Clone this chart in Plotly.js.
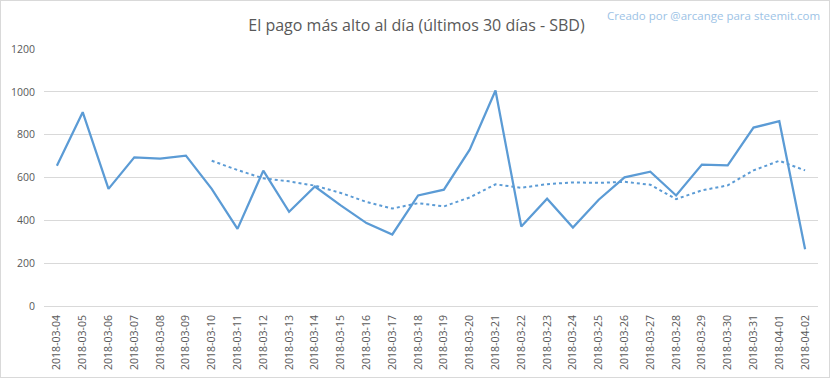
<!DOCTYPE html>
<html>
<head>
<meta charset="utf-8">
<script src="https://cdn.plot.ly/plotly-3.0.1.min.js"></script>
<style>
  html, body { margin: 0; padding: 0; background: #fff; }
  #wrap { position: relative; width: 833px; height: 379px; }
  #chart { width: 833px; height: 379px; }
  #frame { position: absolute; left: 0; top: 0; width: 830px; height: 378px; box-sizing: border-box; border: 1px solid #d9d9d9; pointer-events: none; }
</style>
</head>
<body>
<div id="wrap"><div id="chart"></div><div id="frame"></div></div>
<script>
const dates = ["2018-03-04","2018-03-05","2018-03-06","2018-03-07","2018-03-08","2018-03-09","2018-03-10","2018-03-11","2018-03-12","2018-03-13","2018-03-14","2018-03-15","2018-03-16","2018-03-17","2018-03-18","2018-03-19","2018-03-20","2018-03-21","2018-03-22","2018-03-23","2018-03-24","2018-03-25","2018-03-26","2018-03-27","2018-03-28","2018-03-29","2018-03-30","2018-03-31","2018-04-01","2018-04-02"];
const topPayout = [655, 905, 547, 694, 688, 702, 547, 360, 632, 440, 558, 470, 387, 334, 516, 543, 730, 1006, 371, 501, 366, 496, 601, 627, 516, 660, 657, 833, 863, 265];
const trendDates = dates.slice(6);
const trendValues = [678, 635, 596, 582, 562, 528, 486, 455, 480, 465, 507, 568, 552, 569, 577, 575, 580, 566, 499, 540, 563, 633, 678, 633];
const yTicks = [0, 200, 400, 600, 800, 1000, 1200];

const blue = '#5b9bd5';
const font = 'Open Sans, Noto Sans, sans-serif';

const traces = [
  { x: dates, y: topPayout, type: 'scatter', mode: 'lines', line: { color: blue, width: 2.25 }, hoverinfo: 'x+y' },
  { x: trendDates, y: trendValues, type: 'scatter', mode: 'lines', line: { color: blue, width: 2, dash: 'dot' }, hoverinfo: 'x+y' }
];

const layout = {
  width: 833, height: 379,
  margin: { l: 44, r: 15, t: 49, b: 73 },
  paper_bgcolor: '#ffffff', plot_bgcolor: '#ffffff',
  showlegend: false,
  font: { family: font, color: '#595959' },
  title: {
    text: 'El pago más alto al día (últimos 30 días - SBD)',
    font: { family: font, size: 16, color: '#595959' },
    xref: 'container', x: 0.5, xanchor: 'center',
    yref: 'container', y: 1 - 25/379, yanchor: 'middle'
  },
  xaxis: {
    type: 'category',
    tickvals: dates, ticktext: dates,
    tickangle: -90,
    tickfont: { family: font, size: 10.5, color: '#595959' },
    showgrid: false, showline: false, zeroline: false,
    ticks: '', ticklabelstandoff: 6,
    range: [-0.5, dates.length - 0.5]
  },
  yaxis: {
    range: [0, 1200],
    tickvals: yTicks,
    tickfont: { family: font, size: 10.5, color: '#595959' },
    showgrid: true, gridcolor: '#d9d9d9', gridwidth: 1,
    zeroline: true, zerolinecolor: '#d9d9d9', zerolinewidth: 1,
    showline: false, ticks: '', ticklabelstandoff: 8
  },
  annotations: [{
    text: 'Creado por @arcange para steemit.com',
    xref: 'paper', yref: 'paper', x: (822-44)/774, y: (306-15)/257,
    xanchor: 'right', yanchor: 'middle', showarrow: false,
    font: { family: font, size: 11.5, color: '#9dc3e6' }
  }]
};

Plotly.newPlot('chart', traces, layout, { displayModeBar: false, staticPlot: true });
</script>
</body>
</html>
